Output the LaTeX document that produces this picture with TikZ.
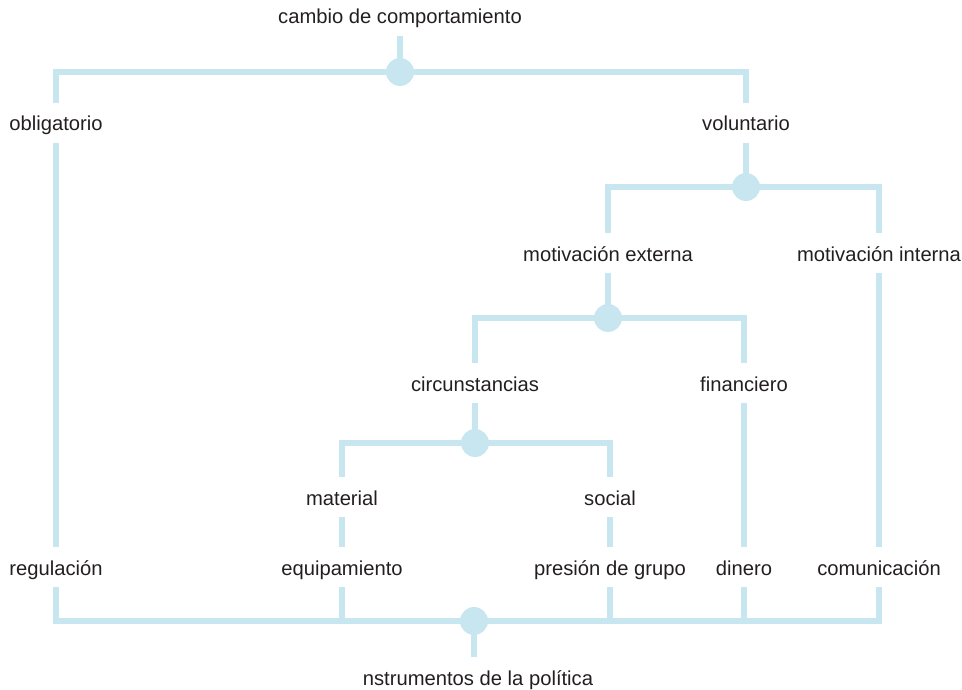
\documentclass[tikz,border=0pt]{standalone}
\usepackage{fontspec}
\setmainfont{Liberation Sans}
\definecolor{linec}{RGB}{199,230,240}
\definecolor{textc}{RGB}{35,31,32}
\begin{document}
\begin{tikzpicture}[x=1pt,y=-1pt,
  lbl/.style={font=\fontsize{20.2}{23}\selectfont, text=textc, inner xsep=0pt, inner ysep=10pt,
    text height=18pt, text depth=2pt, outer sep=0pt},
  dot/.style={circle, fill=linec, draw=none, minimum size=28pt, inner sep=0pt, outer sep=-1pt},
  conn/.style={draw=linec, line width=5.5pt, line join=miter, line cap=butt}]
\useasboundingbox (0,0) rectangle (962,690);
% labels
\node[lbl] (top) at (400,16) {cambio de comportamiento};
\node[lbl] (obl) at (56,123) {obligatorio};
\node[lbl] (vol) at (746,123) {voluntario};
\node[lbl] (mext) at (608,253) {motivación externa};
\node[lbl] (mint) at (879,253) {motivación interna};
\node[lbl] (circ) at (475,383) {circunstancias};
\node[lbl] (fin) at (744,383) {financiero};
\node[lbl] (mat) at (342,497) {material};
\node[lbl] (soc) at (610,497) {social};
\node[lbl] (reg) at (56,567) {regulación};
\node[lbl] (equip) at (342,567) {equipamiento};
\node[lbl] (pres) at (610,567) {presión de grupo};
\node[lbl] (din) at (744,567) {dinero};
\node[lbl] (com) at (879,567) {comunicación};
\node[lbl] (bot) at (478,677) {nstrumentos de la política};
% junctions
\node[dot] (c1) at (400,72) {};
\node[dot] (c2) at (746,187) {};
\node[dot] (c3) at (608,318) {};
\node[dot] (c4) at (475,443) {};
\node[dot] (c5) at (474,621) {};
% connectors
\path[conn] (top) -- (c1);
\path[conn] (c1) -| (obl);
\path[conn] (c1) -| (vol);
\path[conn] (obl) -- (reg);
\path[conn] (vol) -- (c2);
\path[conn] (c2) -| (mext);
\path[conn] (c2) -| (mint);
\path[conn] (mext) -- (c3);
\path[conn] (c3) -| (circ);
\path[conn] (c3) -| (fin);
\path[conn] (circ) -- (c4);
\path[conn] (c4) -| (mat);
\path[conn] (c4) -| (soc);
\path[conn] (mat) -- (equip);
\path[conn] (soc) -- (pres);
\path[conn] (fin) -- (din);
\path[conn] (mint) -- (com);
\path[conn] (reg) |- (c5);
\path[conn] (equip) |- (c5);
\path[conn] (pres) |- (c5);
\path[conn] (din) |- (c5);
\path[conn] (com) |- (c5);
\path[conn] (c5) -- (c5 |- bot.north);
\end{tikzpicture}
\end{document}
